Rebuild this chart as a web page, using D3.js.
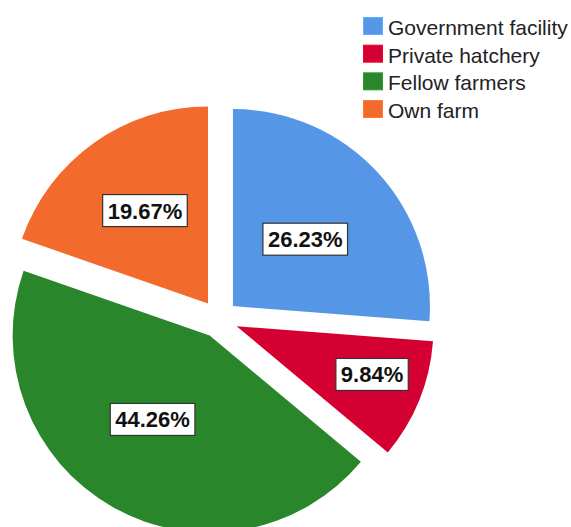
<!DOCTYPE html>
<html>
<head>
<meta charset="utf-8">
<script src="https://cdn.jsdelivr.net/npm/d3@7"></script>
<style>
  html, body { margin: 0; padding: 0; background: #ffffff; }
  svg { display: block; }
</style>
</head>
<body>
<script>
// Source of fingerlings, share of respondents (%)
const categories = ["Government facility", "Private hatchery", "Fellow farmers", "Own farm"];
const shares = [26.23, 9.84, 44.26, 19.67];
const colors = ["#5596E6", "#D50032", "#2A862A", "#F26A2C"];

const width = 571, height = 527;
const cx = 219, cy = 319;
const radius = 197;
const explode = 19;
// value-box placement: distance from slice apex (fraction of radius) and angular nudge (radians)
const labelFrac = [0.5, 0.73, 0.515, 0.57];
const labelTurn = [0, -0.044, 0.082, 0.022];

const svg = d3.select("body").append("svg")
  .attr("width", width)
  .attr("height", height);

const pie = d3.pie().sort(null).value(d => d).startAngle(0).endAngle(2 * Math.PI);
const arcs = pie(shares);
const arc = d3.arc().innerRadius(0).outerRadius(radius);

const g = svg.append("g").attr("transform", `translate(${cx},${cy})`);

const slices = g.selectAll("g.slice")
  .data(arcs)
  .join("g")
  .attr("class", "slice")
  .attr("transform", d => {
    const mid = (d.startAngle + d.endAngle) / 2;
    return `translate(${explode * Math.sin(mid)},${-explode * Math.cos(mid)})`;
  });

slices.append("path")
  .attr("d", arc)
  .attr("fill", (d, i) => colors[i]);

const fmt = v => v.toFixed(2) + "%";

slices.each(function (d, i) {
  const mid = (d.startAngle + d.endAngle) / 2 + labelTurn[i];
  const r = radius * labelFrac[i];
  const x = r * Math.sin(mid), y = -r * Math.cos(mid);
  const lg = d3.select(this).append("g").attr("transform", `translate(${x},${y})`);
  const t = lg.append("text")
    .attr("text-anchor", "middle")
    .attr("dy", "0.36em")
    .attr("font-family", "'Liberation Sans', Arial, sans-serif")
    .attr("font-size", 22)
    .attr("font-weight", "bold")
    .attr("fill", "#111")
    .text(fmt(d.data));
  const bb = t.node().getBBox();
  lg.insert("rect", "text")
    .attr("x", bb.x - 5)
    .attr("y", -16)
    .attr("width", bb.width + 10)
    .attr("height", 32)
    .attr("fill", "#fff")
    .attr("stroke", "#333")
    .attr("stroke-width", 1.2);
});

// Legend
const legend = svg.append("g").attr("transform", "translate(363,0)");
const rowY = d3.scalePoint().domain(categories).range([35, 118]);
const rows = legend.selectAll("g.row")
  .data(categories)
  .join("g")
  .attr("class", "row")
  .attr("transform", d => `translate(0,${rowY(d)})`);

rows.append("rect")
  .attr("x", 0.5)
  .attr("y", -17.5)
  .attr("width", 19)
  .attr("height", 17)
  .attr("fill", (d, i) => colors[i])
  .attr("stroke", (d, i) => d3.color(colors[i]).brighter(0.4))
  .attr("stroke-width", 1);

rows.append("text")
  .attr("x", 25)
  .attr("y", 0)
  .attr("font-family", "'Liberation Sans', Arial, sans-serif")
  .attr("font-size", 21)
  .attr("fill", "#222")
  .text(d => d);
</script>
</body>
</html>
